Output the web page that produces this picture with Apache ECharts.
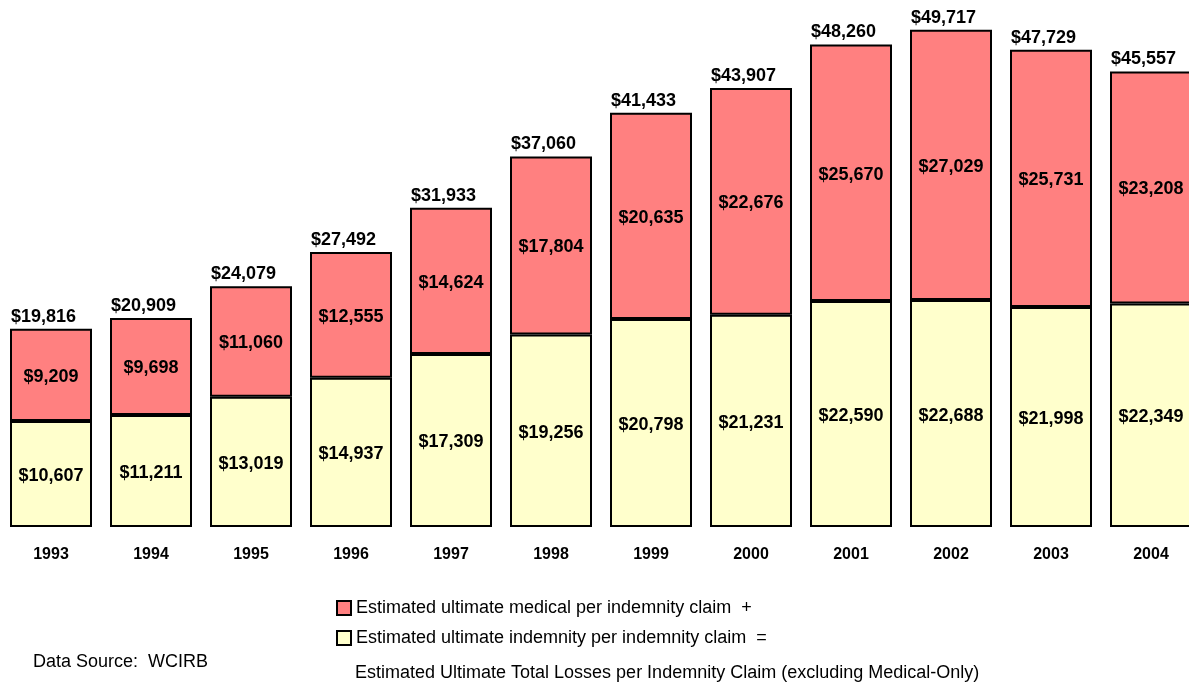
<!DOCTYPE html>
<html>
<head>
<meta charset="utf-8">
<script src="https://cdn.jsdelivr.net/npm/echarts@6/dist/echarts.min.js"></script>
<style>
  html, body { margin: 0; padding: 0; background: #ffffff; }
  #chart { width: 1189px; height: 683px; }
</style>
</head>
<body>
<div id="chart"></div>
<script>
// Accident years
const years = ['1993', '1994', '1995', '1996', '1997', '1998', '1999', '2000', '2001', '2002', '2003', '2004'];

// Estimated ultimate indemnity per indemnity claim ($)
const indemnity = [10607, 11211, 13019, 14937, 17309, 19256, 20798, 21231, 22590, 22688, 21998, 22349];

// Estimated ultimate medical per indemnity claim ($)
const medical = [9209, 9698, 11060, 12555, 14624, 17804, 20635, 22676, 25670, 27029, 25731, 23208];

// Total losses per indemnity claim = indemnity + medical
const totals = indemnity.map((v, i) => v + medical[i]);

const FONT = '"Liberation Sans", Arial, Helvetica, sans-serif';
const money = v => '$' + v.toLocaleString('en-US');

const chart = echarts.init(document.getElementById('chart'), null, { renderer: 'canvas' });

chart.setOption({
  animation: false,
  backgroundColor: '#ffffff',
  textStyle: { fontFamily: FONT },
  // plot area runs past the right edge so the last bar is cut by the page border
  grid: { left: 1, width: 1200, top: 27, bottom: 156, containLabel: false, outerBoundsMode: 'none' },
  xAxis: {
    type: 'category',
    data: years,
    axisLine: { show: false },
    axisTick: { show: false },
    axisLabel: {
      margin: 20,
      fontSize: 16,
      fontWeight: 'bold',
      color: '#000000',
      fontFamily: FONT
    }
  },
  yAxis: {
    type: 'value',
    min: 0,
    max: 50000,
    show: false,
    splitLine: { show: false }
  },
  legend: {
    orient: 'vertical',
    left: 336,
    top: 598,
    padding: 0,
    icon: 'rect',
    itemWidth: 14,
    itemHeight: 14,
    itemGap: 10,
    data: ['Estimated ultimate medical per indemnity claim', 'Estimated ultimate indemnity per indemnity claim'],
    formatter: function (name) {
      return name.indexOf('medical') >= 0 ? name + '  +' : name + '  =';
    },
    textStyle: { fontSize: 18, color: '#000000', fontFamily: FONT, lineHeight: 20 }
  },
  graphic: [
    {
      type: 'text',
      left: 355,
      top: 664,
      style: {
        text: 'Estimated Ultimate Total Losses per Indemnity Claim (excluding Medical-Only)',
        font: '18px ' + FONT,
        fill: '#000000'
      }
    },
    {
      type: 'text',
      left: 33,
      top: 653,
      style: {
        text: 'Data Source:  WCIRB',
        font: '18px ' + FONT,
        fill: '#000000'
      }
    }
  ],
  series: [
    {
      name: 'Estimated ultimate indemnity per indemnity claim',
      type: 'bar',
      stack: 'loss',
      data: indemnity,
      barWidth: 82,
      itemStyle: { color: '#FFFFCC', borderColor: '#000000', borderWidth: 2 },
      label: {
        show: true,
        position: 'inside',
        offset: [0, 2],
        formatter: p => money(p.value),
        fontSize: 18,
        fontWeight: 'bold',
        color: '#000000',
        fontFamily: FONT
      }
    },
    {
      name: 'Estimated ultimate medical per indemnity claim',
      type: 'bar',
      stack: 'loss',
      data: medical,
      barWidth: 82,
      itemStyle: { color: '#FF8080', borderColor: '#000000', borderWidth: 2 },
      label: {
        show: true,
        position: 'inside',
        offset: [0, 2],
        formatter: p => money(p.value),
        fontSize: 18,
        fontWeight: 'bold',
        color: '#000000',
        fontFamily: FONT
      }
    },
    {
      name: 'Total',
      type: 'scatter',
      data: totals,
      symbolSize: 0,
      silent: true,
      z: 5,
      itemStyle: { opacity: 1, color: '#000000' },
      label: {
        show: true,
        position: [-40, -3],
        align: 'left',
        verticalAlign: 'bottom',
        formatter: p => money(p.value),
        fontSize: 18,
        fontWeight: 'bold',
        color: '#000000',
        opacity: 1,
        fontFamily: FONT
      }
    }
  ]
});
</script>
</body>
</html>
